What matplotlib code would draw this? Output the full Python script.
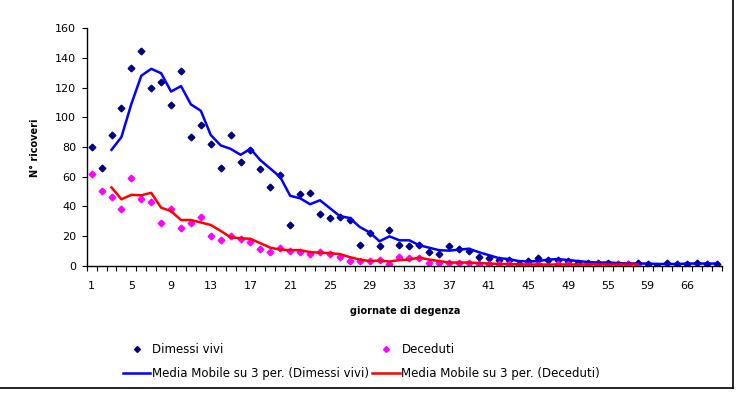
import numpy as np
import pandas as pd
import matplotlib
matplotlib.use("Agg")
import matplotlib.pyplot as plt
from matplotlib.lines import Line2D

# Data (categories are the x-axis "giornate di degenza")
giornate = list(range(1, 50)) + [50, 52, 53, 55, 56, 57, 58, 59, 60, 62, 64, 66, 68, 70, 75]

dimessi_vivi = [80, 66, 88, 106, 133, 145, 120, 124, 108, 131,
                87, 95, 82, 66, 88, 70, 78, 65, 53, 61,
                27, 48, 49, 35, 32, 33, 31, 14, 22, 13,
                24, 14, 13, 14, 9, 8, 13, 11, 10, 6,
                5, 4, 4, 1, 3, 5, 4, 4, 3, 2,
                2, 2, 2, 1, 1, 2, 1, 0, 2, 1,
                1, 2, 1, 1]

deceduti = [62, 50, 46, 38, 59, 45, 43, 29, 38, 25,
            29, 33, 20, 17, 20, 18, 16, 11, 9, 12,
            10, 9, 8, 9, 8, 6, 3, 3, 3, 4,
            1, 6, 5, 5, 2, 2, 2, 2, 2, 1,
            1, 1, 1, 0, 1, 1, 0, 1, 1, 0,
            1, 1, 0, 1, 1, 0] + [np.nan] * 8

y_ticks = list(range(0, 161, 20))

NAVY = "#000080"
MAGENTA = "#ff00ff"
BLUE = "#0000ff"
RED = "#ff0000"

plt.rcParams["font.family"] = "DejaVu Sans"

fig = plt.figure(figsize=(7.45, 3.98), dpi=100)
ax = fig.add_axes([86.7 / 745, 1 - 265.5 / 398, (722 - 86.7) / 745, (265.5 - 28.3) / 398])

x = np.arange(len(giornate))

ax.plot(x, dimessi_vivi, linestyle="none", marker="D", markersize=3.4,
        color=NAVY, zorder=2)
ax.plot(x, deceduti, linestyle="none", marker="D", markersize=3.4,
        color=MAGENTA, zorder=2)

# Excel trendline "Media Mobile su 3 per." = 3-period trailing moving average
mm_vivi = pd.Series(dimessi_vivi, dtype=float).rolling(3).mean()
mm_dec = pd.Series(deceduti, dtype=float).rolling(3).mean()
ax.plot(x, mm_vivi, color=BLUE, lw=1.8, zorder=3)
ax.plot(x, mm_dec, color=RED, lw=1.8, zorder=3)

ax.set_xlim(-0.5, len(giornate) - 0.5)
ax.set_ylim(0, 160)
ax.set_yticks(y_ticks)
ax.tick_params(axis="y", direction="out", length=3.5, width=0.8,
               labelsize=8, pad=4)

# labels every 4 categories, ticks between categories
ax.set_xticks(x[::4])
ax.set_xticklabels([str(g) for g in giornate[::4]])
ax.set_xticks(np.arange(-0.5, len(giornate), 1), minor=True)
ax.tick_params(axis="x", which="major", length=0, labelsize=8, pad=11)
ax.tick_params(axis="x", which="minor", direction="out", length=3.5, width=0.8)

for side in ["top", "right"]:
    ax.spines[side].set_visible(False)
for side in ["left", "bottom"]:
    ax.spines[side].set_linewidth(1.0)

fig.text(405 / 745, 1 - 311 / 398, "giornate di degenza", fontsize=7,
         fontweight="bold", ha="center", va="center")
fig.text(35 / 745, 1 - 148 / 398, "N° ricoveri", fontsize=7,
         fontweight="bold", ha="center", va="center", rotation=90)

handles = [
    Line2D([], [], linestyle="none", marker="D", markersize=3, color=NAVY),
    Line2D([], [], color=BLUE, lw=1.8),
    Line2D([], [], linestyle="none", marker="D", markersize=3, color=MAGENTA),
    Line2D([], [], color=RED, lw=1.8),
]
labels = ["Dimessi vivi", "Media Mobile su 3 per. (Dimessi vivi)",
          "Deceduti", "Media Mobile su 3 per. (Deceduti)"]
fig.legend(handles, labels, ncol=2, frameon=False, fontsize=8.5,
           loc="upper left", bbox_to_anchor=(123 / 745, 1 - 343 / 398),
           handlelength=2.3, handletextpad=0.15, columnspacing=0.3,
           labelspacing=0.97, borderpad=0, borderaxespad=0)

# chart area border (right and bottom edges visible in the capture)
fig.add_artist(Line2D([733 / 745, 733 / 745], [1 - 388 / 398, 1.0],
                      transform=fig.transFigure, color="black", lw=1.2))
fig.add_artist(Line2D([0, 733 / 745], [1 - 388 / 398, 1 - 388 / 398],
                      transform=fig.transFigure, color="black", lw=1.2))

fig.savefig("out.png", dpi=100)
